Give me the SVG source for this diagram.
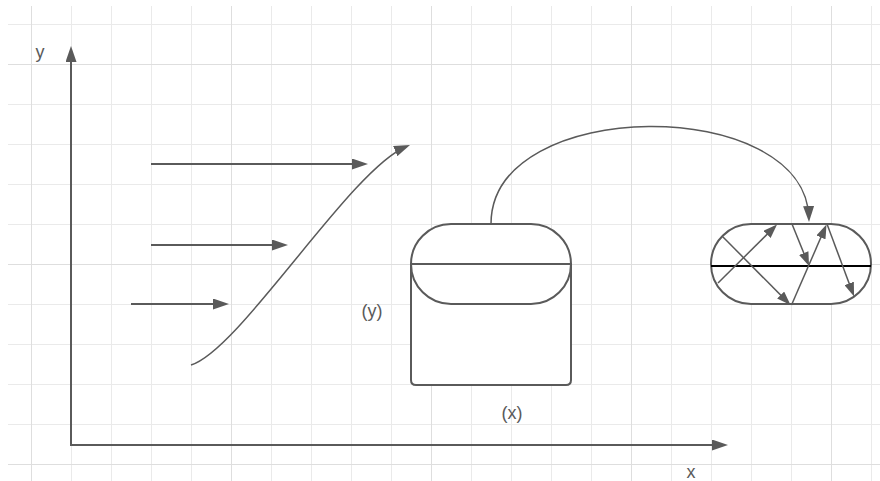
<svg xmlns="http://www.w3.org/2000/svg" width="880" height="481" viewBox="0 0 880 481">
<style>
.minor{stroke:#eaeaea;stroke-width:1;fill:none}
.major{stroke:#dedede;stroke-width:1;fill:none}
.ln{stroke:#5a5a5a;fill:none;stroke-width:2}
.thin{stroke:#5a5a5a;fill:none;stroke-width:1.5}
.shape{stroke:#5a5a5a;fill:#ffffff;stroke-width:2}
.lbl{font-family:"Liberation Sans",Arial,sans-serif;font-size:18px;fill:#5a5a5a}
</style>
<defs>
<marker id="big" markerUnits="userSpaceOnUse" markerWidth="16" markerHeight="11" refX="12" refY="5.5" orient="auto-start-reverse" viewBox="0 0 16 11">
<path d="M0,0 L16,5.5 L0,11 Z" fill="#5a5a5a"/>
</marker>
<marker id="small" markerUnits="userSpaceOnUse" markerWidth="14" markerHeight="10" refX="11" refY="5" orient="auto" viewBox="0 0 14 10">
<path d="M0,0 L14,5 L0,10 Z" fill="#5a5a5a"/>
</marker>
</defs>
<rect x="0" y="0" width="880" height="481" fill="#ffffff"/>
<g id="grid">
<path class="minor" d="M71.5,6V481M111.5,6V481M151.5,6V481M191.5,6V481M271.5,6V481M311.5,6V481M351.5,6V481M391.5,6V481M471.5,6V481M511.5,6V481M551.5,6V481M591.5,6V481M671.5,6V481M711.5,6V481M751.5,6V481M791.5,6V481M871.5,6V481M8,24.5H880M8,104.5H880M8,144.5H880M8,184.5H880M8,224.5H880M8,304.5H880M8,344.5H880M8,384.5H880M8,424.5H880"/>
<path class="major" d="M31.5,6V481M231.5,6V481M431.5,6V481M631.5,6V481M831.5,6V481M8,64.5H880M8,264.5H880M8,464.5H880"/>
</g>
<g id="tank">
<path class="shape" d="M411,264 V380 Q411,385 416,385 H566 Q571,385 571,380 V264 Z"/>
<rect class="shape" x="411" y="224" width="160" height="80" rx="40" ry="40"/>
<path class="ln" d="M411,264 H571"/>
</g>
<g id="pill">
<rect class="shape" x="711" y="224" width="160" height="80" rx="40" ry="40"/>
<path d="M711,266 H871" stroke="#000000" stroke-width="2" fill="none"/>
</g>
<g id="connectors">
<path class="ln" d="M71,50 V445 H724" marker-start="url(#big)" marker-end="url(#big)"/>
<path class="ln" d="M151,164 H364" marker-end="url(#big)"/>
<path class="ln" d="M151,245 H284" marker-end="url(#big)"/>
<path class="ln" d="M131,304 H225" marker-end="url(#big)"/>
<path class="thin" d="M191,365 C240,350 350,170 406.3,146.5" marker-end="url(#big)"/>
<path class="thin" d="M491,224 C491,95 806,95 808.9,218" marker-end="url(#big)"/>
<path class="thin" d="M718,283 L774.9,226.6" marker-end="url(#small)"/>
<path class="thin" d="M722,236 L788.4,302.9" marker-end="url(#small)"/>
<path class="thin" d="M792,224 L807.9,263.2" marker-end="url(#small)"/>
<path class="thin" d="M791.5,305 L825.3,227.3" marker-end="url(#small)"/>
<path class="thin" d="M827,224 L853,293.7" marker-end="url(#small)"/>
</g>
<g id="labels">
<text class="lbl" x="40" y="58" text-anchor="middle" font-size="20">y</text>
<text class="lbl" x="372" y="317" text-anchor="middle">(y)</text>
<text class="lbl" x="512" y="419" text-anchor="middle">(x)</text>
<text class="lbl" x="691" y="478" text-anchor="middle" font-size="20">x</text>
</g>
</svg>
